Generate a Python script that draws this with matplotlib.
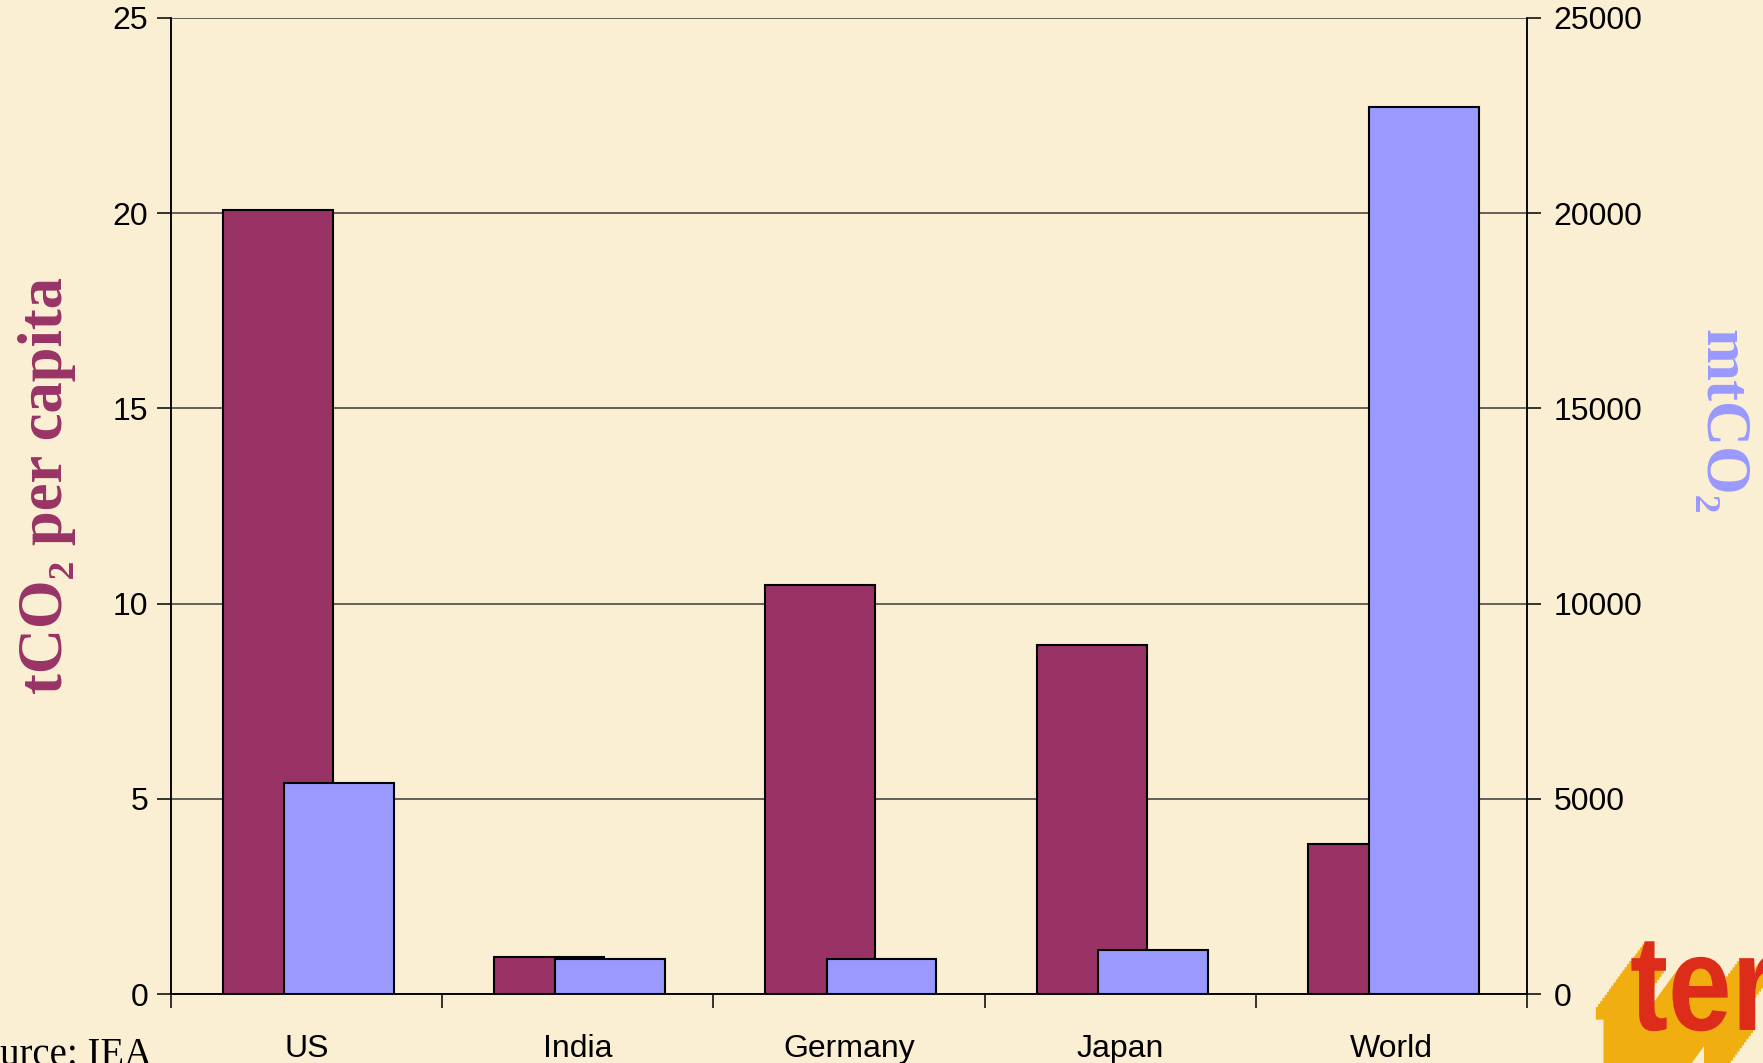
import matplotlib
matplotlib.use('Agg')
import matplotlib.pyplot as plt
import matplotlib.patheffects as pe
from matplotlib.textpath import TextPath
from matplotlib.font_manager import FontProperties
from matplotlib.patches import PathPatch
from matplotlib.transforms import Affine2D, IdentityTransform

# data
countries = ['US', 'India', 'Germany', 'Japan', 'World']
per_capita = [20.08, 0.94, 10.47, 8.93, 3.85]      # tCO2 per capita
total_mt = [5400, 890, 895, 1135, 22720]           # mtCO2
left_ticks = [0, 5, 10, 15, 20, 25]
right_ticks = [0, 5000, 10000, 15000, 20000, 25000]

bg = '#FAEFD3'
maroon = '#993366'
lilac = '#9999FF'

fig = plt.figure(figsize=(17.63, 10.63), dpi=100, facecolor=bg)
ax = fig.add_axes([0.0968, 0.0649, 0.7694, 0.9184])
ax.set_facecolor(bg)
ax2 = ax.twinx()
ax2.patch.set_visible(False)

x = list(range(len(countries)))
w = 0.405
ax.bar([i - 0.105 for i in x], per_capita, width=w, color=maroon,
       edgecolor='black', linewidth=1.5, zorder=3)
ax2.bar([i + 0.12 for i in x], total_mt, width=w, color=lilac,
        edgecolor='black', linewidth=1.5, zorder=3)

ax.set_xlim(-0.5, len(countries) - 0.5)
ax.set_ylim(0, 25)
ax2.set_ylim(0, 25000)
ax.set_yticks(left_ticks)
ax2.set_yticks(right_ticks)

ax.set_axisbelow(True)
ax.yaxis.grid(True, color='#3a3a3a', linewidth=1.1)

# category labels at centres, tick marks between categories
ax.set_xticks(x)
ax.set_xticklabels(countries, fontsize=23, family='Liberation Sans')
ax.set_xticks([i - 0.5 for i in range(len(countries) + 1)], minor=True)
ax.tick_params(axis='x', which='major', length=0, pad=29)
ax.tick_params(axis='x', which='minor', length=10, width=1.1, direction='out')

ax.tick_params(axis='y', length=10, width=1.1, pad=6, labelsize=23)
ax2.tick_params(axis='y', length=10, width=1.1, pad=9, labelsize=23)
for lab in ax.get_yticklabels() + ax2.get_yticklabels():
    lab.set_family('Liberation Sans')

for a in (ax, ax2):
    a.spines['top'].set_visible(False)
    for s in ('left', 'right', 'bottom'):
        a.spines[s].set_linewidth(1.1)

serif = ['Liberation Serif', 'DejaVu Serif']
fig.text(47 / 1763, 1 - 486 / 1063, 'tCO\u2082 per capita', rotation=90,
         ha='center', va='center', fontsize=45, fontweight='bold',
         color=maroon, family=serif)
fig.text(1720 / 1763, 1 - 422 / 1063, 'mtCO\u2082', rotation=-90,
         ha='center', va='center', fontsize=45, fontweight='bold',
         color=lilac, family=serif)
fig.text(152 / 1763, -2 / 1063, 'Source: IEA', ha='right', va='baseline',
         fontsize=28, family=serif)

# logo: narrowed bold "ter" with an extruded yellow shadow, cut at the edge
logo = TextPath((0, 0), 'ter', size=136,
                prop=FontProperties(family='Liberation Sans', weight='bold'))
logo_tf = Affine2D().scale(0.84, 1.0).translate(1630, 1063 - 1030) + IdentityTransform()
shadow = [pe.SimplePatchShadow(offset=(-1.6 * k, -2.2 * k),
                               shadow_rgbFace='#F0AE10', alpha=1.0)
          for k in range(16, 0, -1)]
fig.add_artist(PathPatch(logo, transform=logo_tf, facecolor='#DD2C1A',
                         edgecolor='none', path_effects=shadow + [pe.Normal()]))

fig.savefig('out.png', dpi=100, facecolor=bg)
